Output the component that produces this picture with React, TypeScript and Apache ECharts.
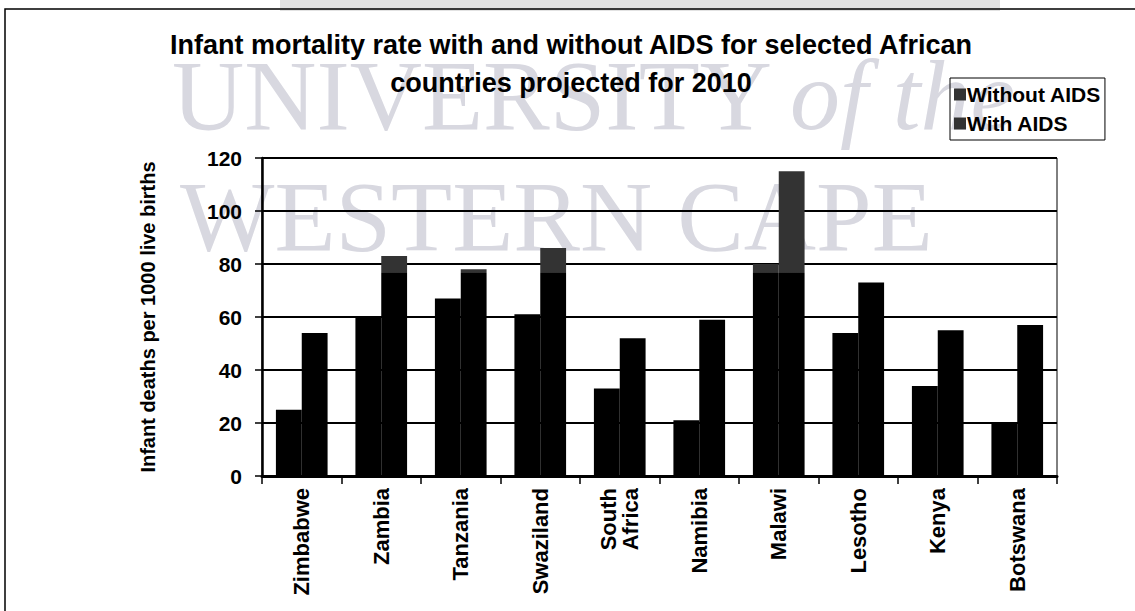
import React, { useEffect, useRef } from "react";
import * as echarts from "echarts";

const categories = [
  "Zimbabwe",
  "Zambia",
  "Tanzania",
  "Swaziland",
  "South\nAfrica",
  "Namibia",
  "Malawi",
  "Lesotho",
  "Kenya",
  "Botswana",
];
const withoutAids = [25, 60, 67, 61, 33, 21, 80, 54, 34, 20];
const withAids = [54, 83, 78, 86, 52, 59, 115, 73, 55, 57];
const seriesNames = ["Without AIDS", "With AIDS"];
const yTicks = { min: 0, max: 120, interval: 20 };

const FONT = "'Liberation Sans', Arial, sans-serif";
const SERIF = "'Liberation Serif', 'DejaVu Serif', serif";
const WM = "#d8d8e0";

export default function App() {
  const ref = useRef<HTMLDivElement>(null);

  useEffect(() => {
    if (!ref.current) return;
    const chart = echarts.init(ref.current, undefined, { renderer: "svg" });

    const barFill = new echarts.graphic.LinearGradient(
      0,
      158,
      0,
      476,
      [
        { offset: 0, color: "#333" },
        { offset: 0.36, color: "#333" },
        { offset: 0.361, color: "#000" },
        { offset: 1, color: "#000" },
      ],
      true
    );

    chart.setOption({
      animation: false,
      backgroundColor: "#fff",
      textStyle: { fontFamily: FONT },
      graphic: [
        {
          type: "rect",
          z: -10,
          shape: { x: 280, y: 0, width: 720, height: 11 },
          style: { fill: "#e2e2e2" },
          silent: true,
        },
        {
          type: "text",
          z: -10,
          x: 172,
          y: 45,
          style: {
            text: "UNIVERSITY",
            font: `100px ${SERIF}`,
            fill: WM,
            textVerticalAlign: "top",
          },
          silent: true,
        },
        {
          type: "text",
          z: -10,
          x: 790,
          y: 45,
          style: {
            text: "of the",
            font: `italic 100px ${SERIF}`,
            fill: WM,
            textVerticalAlign: "top",
          },
          silent: true,
        },
        {
          type: "text",
          z: -10,
          x: 180,
          y: 166,
          style: {
            text: "WESTERN CAPE",
            font: `100px ${SERIF}`,
            fill: WM,
            textVerticalAlign: "top",
          },
          silent: true,
        },
        {
          type: "rect",
          shape: { x: 5, y: 9, width: 1200, height: 700 },
          style: { fill: "none", stroke: "#000", lineWidth: 1.5 },
          silent: true,
        },
      ],
      title: {
        text:
          "Infant mortality rate with and without AIDS for selected African\ncountries projected for 2010",
        left: 571,
        textAlign: "center",
        top: 26,
        padding: 0,
        textStyle: {
          fontFamily: FONT,
          fontSize: 27,
          fontWeight: "bold",
          color: "#000",
          lineHeight: 38,
        },
      },
      legend: {
        data: seriesNames,
        orient: "vertical",
        left: 950,
        top: 78,
        itemWidth: 12,
        itemHeight: 12,
        itemGap: 8,
        borderColor: "#000",
        borderWidth: 1,
        padding: [6, 4, 6, 4],
        icon: "rect",
        textStyle: {
          fontFamily: FONT,
          fontSize: 21,
          fontWeight: "bold",
          color: "#000",
          padding: [0, 0, 0, -4],
        },
      },
      grid: {
        left: 262,
        right: 78,
        top: 158,
        bottom: 135,
        show: true,
        borderColor: "#000",
        borderWidth: 1,
      },
      xAxis: {
        type: "category",
        data: categories,
        axisLine: { lineStyle: { color: "#000", width: 3 } },
        axisTick: { show: true, length: 8, lineStyle: { color: "#000", width: 1.5 } },
        axisLabel: {
          rotate: 90,
          interval: 0,
          margin: 12,
          color: "#000",
          fontFamily: FONT,
          fontSize: 22,
          fontWeight: "bold",
          lineHeight: 22,
        },
      },
      yAxis: {
        type: "value",
        min: yTicks.min,
        max: yTicks.max,
        interval: yTicks.interval,
        name: "Infant deaths per 1000 live births",
        nameLocation: "middle",
        nameGap: 104,
        nameTextStyle: {
          fontFamily: FONT,
          fontSize: 20,
          fontWeight: "bold",
          color: "#000",
        },
        axisLine: { show: true, lineStyle: { color: "#000", width: 2.5 } },
        axisTick: { show: true, length: 7, lineStyle: { color: "#000", width: 1.5 } },
        axisLabel: {
          margin: 20,
          color: "#000",
          fontFamily: FONT,
          fontSize: 21,
          fontWeight: "bold",
        },
        splitLine: { show: true, lineStyle: { color: "#000", width: 2 } },
      },
      series: [
        {
          name: seriesNames[0],
          type: "bar",
          data: withoutAids,
          barGap: "0%",
          barCategoryGap: "35%",
          itemStyle: { color: barFill },
        },
        {
          name: seriesNames[1],
          type: "bar",
          data: withAids,
          barGap: "0%",
          barCategoryGap: "35%",
          itemStyle: { color: barFill },
        },
      ],
    });

    return () => chart.dispose();
  }, []);

  return (
    <div
      ref={ref}
      style={{ position: "fixed", left: 0, top: 0, width: 1135, height: 611 }}
    />
  );
}
